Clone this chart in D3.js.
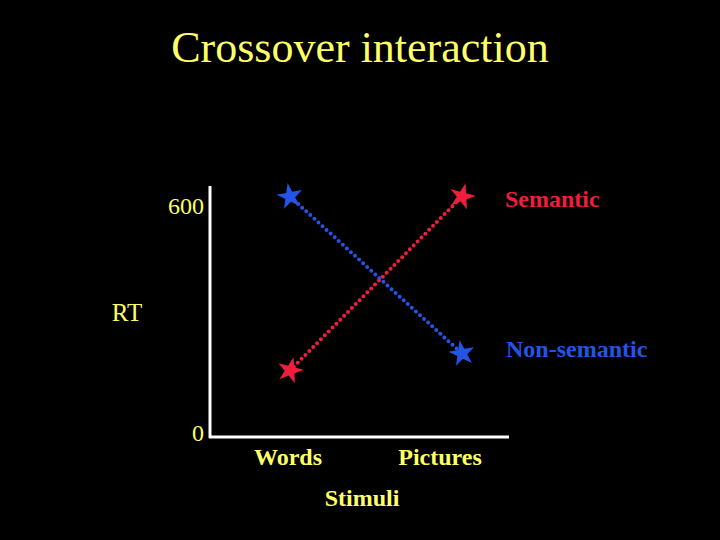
<!DOCTYPE html>
<html><head><meta charset="utf-8">
<script src="https://cdn.jsdelivr.net/npm/d3@7"></script>
<style>html,body{margin:0;padding:0;background:#000;}svg{display:block;}</style>
</head><body>
<script>
const categories = ["Words", "Pictures"];
const semanticRT = [165, 625];
const nonSemanticRT = [625, 210];
const yTicks = [0, 600];
const seriesNames = ["Semantic", "Non-semantic"];
const seriesColors = ["#ee1e3c", "#2454e6"];

const W = 720, H = 540;
const svg = d3.select("body").append("svg").attr("width", W).attr("height", H)
  .style("background", "#000");
const yellow = "#ffff66";
const serif = "'Liberation Serif','Times New Roman',serif";

svg.append("text").attr("x", 360).attr("y", 62).attr("text-anchor", "middle")
  .attr("fill", yellow).attr("font-family", serif).attr("font-size", 44)
  .text("Crossover interaction");

const x = d3.scalePoint().domain(categories).range([290, 462]);
const y = d3.scaleLinear().domain([0, 600]).range([433, 206]);

// axes lines
svg.append("line").attr("x1", 210).attr("x2", 210).attr("y1", 186).attr("y2", 438)
  .attr("stroke", "#fff").attr("stroke-width", 3);
svg.append("line").attr("x1", 209).attr("x2", 509).attr("y1", 437).attr("y2", 437)
  .attr("stroke", "#fff").attr("stroke-width", 3);

// y tick labels
svg.selectAll(".yt").data(yTicks).enter().append("text")
  .attr("x", 204).attr("y", d => y(d) + 8).attr("text-anchor", "end")
  .attr("fill", yellow).attr("font-family", serif).attr("font-size", 24)
  .text(d => d);
svg.append("text").attr("x", 127).attr("y", 321).attr("text-anchor", "middle")
  .attr("fill", yellow).attr("font-family", serif).attr("font-size", 25).text("RT");

// x labels
svg.selectAll(".xt").data(categories).enter().append("text")
  .attr("x", d => x(d) + (d === "Words" ? -2 : -22)).attr("y", 465).attr("text-anchor", "middle")
  .attr("fill", yellow).attr("font-family", serif).attr("font-weight", "bold").attr("font-size", 24)
  .text(d => d);
svg.append("text").attr("x", 362).attr("y", 506).attr("text-anchor", "middle")
  .attr("fill", yellow).attr("font-family", serif).attr("font-weight", "bold").attr("font-size", 24)
  .text("Stimuli");

const series = [semanticRT, nonSemanticRT];
const line = d3.line().x((d, i) => x(categories[i])).y(d => y(d));
const star = d3.symbol().type(d3.symbolStar).size(210);

series.forEach((vals, s) => {
  svg.append("path").attr("d", line(vals)).attr("fill", "none")
    .attr("stroke", seriesColors[s]).attr("stroke-width", 4)
    .attr("stroke-linecap", "round").attr("stroke-dasharray", "0 5.5");
  svg.selectAll(".st" + s).data(vals).enter().append("path")
    .attr("d", star)
    .attr("transform", (d, i) => `translate(${x(categories[i])},${y(d)}) rotate(${s === 0 ? 15 : -10})`)
    .attr("fill", seriesColors[s]);
});

// series labels
svg.append("text").attr("x", 505).attr("y", 207).attr("fill", seriesColors[0])
  .attr("font-family", serif).attr("font-weight", "bold").attr("font-size", 24).text(seriesNames[0]);
svg.append("text").attr("x", 506).attr("y", 357).attr("fill", seriesColors[1])
  .attr("font-family", serif).attr("font-weight", "bold").attr("font-size", 24).text(seriesNames[1]);
</script>
</body></html>
